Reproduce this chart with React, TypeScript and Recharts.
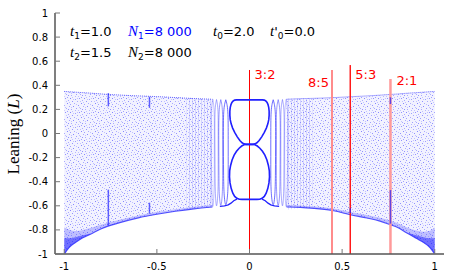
import React from 'react';
import {
  ComposedChart,
  Area,
  Line,
  Scatter,
  XAxis,
  YAxis,
  ReferenceLine,
  Customized,
} from 'recharts';

document.body.style.margin = '0';

const X_TICKS = [-1, -0.5, 0, 0.5, 1];
const Y_TICKS = [-1, -0.8, -0.6, -0.4, -0.2, 0, 0.2, 0.4, 0.6, 0.8, 1];

// outline of the chaotic cloud, left of the central lobes
const LEFT_X = [-1, -0.97, -0.94, -0.9, -0.85, -0.8, -0.7, -0.6, -0.5, -0.4, -0.3, -0.2];
const LEFT_TOP = [0.349, 0.346, 0.343, 0.339, 0.334, 0.328, 0.319, 0.312, 0.306, 0.298, 0.29, 0.284];
const LEFT_LOW = [-1, -0.94, -0.905, -0.865, -0.83, -0.79, -0.74, -0.7, -0.67, -0.645, -0.625, -0.61];
const LEFT_BAND = [-0.78, -0.8, -0.81, -0.8, -0.78, -0.755, -0.715, -0.68, -0.652, -0.628, -0.608, -0.593];

// and right of them
const RIGHT_X = [0.2, 0.274, 0.35, 0.454, 0.544, 0.634, 0.7, 0.76, 0.8, 0.85, 0.9, 0.94, 0.97, 1];
const RIGHT_TOP = [0.284, 0.289, 0.292, 0.298, 0.305, 0.312, 0.318, 0.324, 0.328, 0.334, 0.339, 0.343, 0.346, 0.349];
const RIGHT_LOW = [-0.61, -0.613, -0.622, -0.641, -0.674, -0.701, -0.725, -0.757, -0.78, -0.826, -0.87, -0.905, -0.94, -1];
const RIGHT_BAND = [-0.593, -0.597, -0.605, -0.622, -0.652, -0.676, -0.697, -0.723, -0.745, -0.78, -0.805, -0.815, -0.81, -0.78];

// dense corners at |x| -> 1
const CORNER_LEFT_X = [-1, -0.97, -0.94, -0.9, -0.86];
const CORNER_LEFT_LOW = [-1, -0.94, -0.905, -0.865, -0.838];
const CORNER_LEFT_TOP = [-0.87, -0.87, -0.86, -0.845, -0.83];
const CORNER_RIGHT_X = [0.86, 0.9, 0.94, 0.97, 1];
const CORNER_RIGHT_LOW = [-0.835, -0.87, -0.905, -0.94, -1];
const CORNER_RIGHT_TOP = [-0.825, -0.845, -0.86, -0.87, -0.87];

// fringe columns near the centre
const FRINGE_LEFT_X = [-0.34, -0.27, -0.2];
const FRINGE_RIGHT_X = [0.2, 0.27, 0.34];
const FRINGE_TOP = [0.292, 0.288, 0.284];
const FRINGE_LOW = [-0.632, -0.62, -0.61];

// the bold 3:2 island (figure eight)
const ISLAND_UPPER: [number, number][] = [
  [0, 0.279], [-0.07, 0.279], [-0.08, 0.277], [-0.088, 0.27], [-0.095, 0.258], [-0.1, 0.24], [-0.104, 0.215],
  [-0.106, 0.185], [-0.106, 0.15], [-0.104, 0.115], [-0.099, 0.08], [-0.091, 0.045], [-0.08, 0.01],
  [-0.066, -0.028], [-0.052, -0.058], [-0.04, -0.077], [-0.03, -0.086], [-0.018, -0.09], [0, -0.09],
  [0.018, -0.09], [0.03, -0.086], [0.04, -0.077], [0.052, -0.058], [0.066, -0.028], [0.08, 0.01],
  [0.091, 0.045], [0.099, 0.08], [0.104, 0.115], [0.106, 0.15], [0.106, 0.185], [0.104, 0.215],
  [0.1, 0.24], [0.095, 0.258], [0.088, 0.27], [0.08, 0.277], [0.07, 0.279], [0, 0.279],
];
const ISLAND_LOWER: [number, number][] = [
  [0, -0.09], [-0.018, -0.09], [-0.03, -0.094], [-0.042, -0.104], [-0.056, -0.122], [-0.07, -0.148],
  [-0.083, -0.18], [-0.094, -0.22], [-0.102, -0.265], [-0.107, -0.31], [-0.108, -0.36], [-0.105, -0.41],
  [-0.099, -0.455], [-0.09, -0.495], [-0.08, -0.522], [-0.068, -0.538], [-0.055, -0.545], [-0.04, -0.547],
  [0.04, -0.547], [0.055, -0.545], [0.068, -0.538], [0.08, -0.522], [0.09, -0.495], [0.099, -0.455],
  [0.105, -0.41], [0.108, -0.36], [0.107, -0.31], [0.102, -0.265], [0.094, -0.22], [0.083, -0.18],
  [0.07, -0.148], [0.056, -0.122], [0.042, -0.104], [0.03, -0.094], [0.018, -0.09], [0, -0.09],
];
const FLARE_LEFT: [number, number][] = [[-0.068, -0.545], [-0.085, -0.558], [-0.1, -0.578], [-0.115, -0.592], [-0.135, -0.6], [-0.16, -0.604]];
const FLARE_RIGHT: [number, number][] = [[0.068, -0.545], [0.085, -0.558], [0.1, -0.578], [0.115, -0.592], [0.135, -0.6], [0.16, -0.604]];

// thin loops just outside the island
const LOOPS: [number, number][][] = [
  [[-0.128, 0.28], [-0.139, 0.18], [-0.141, -0.05], [-0.14, -0.32], [-0.137, -0.5], [-0.128, -0.59], [-0.118, -0.5], [-0.115, -0.32], [-0.115, -0.05], [-0.117, 0.18], [-0.128, 0.28]],
  [[-0.155, 0.281], [-0.164, 0.18], [-0.166, -0.05], [-0.165, -0.32], [-0.163, -0.5], [-0.155, -0.595], [-0.147, -0.5], [-0.145, -0.32], [-0.145, -0.05], [-0.146, 0.18], [-0.155, 0.281]],
  [[-0.178, 0.282], [-0.186, 0.18], [-0.187, -0.05], [-0.186, -0.32], [-0.184, -0.5], [-0.178, -0.6], [-0.171, -0.5], [-0.169, -0.32], [-0.169, -0.05], [-0.17, 0.18], [-0.178, 0.282]],
  [[-0.198, 0.283], [-0.205, 0.18], [-0.206, -0.05], [-0.205, -0.32], [-0.203, -0.5], [-0.198, -0.605], [-0.192, -0.5], [-0.19, -0.32], [-0.19, -0.05], [-0.191, 0.18], [-0.198, 0.283]],
  [[0.128, 0.28], [0.139, 0.18], [0.141, -0.05], [0.14, -0.32], [0.137, -0.5], [0.128, -0.59], [0.118, -0.5], [0.115, -0.32], [0.115, -0.05], [0.117, 0.18], [0.128, 0.28]],
  [[0.155, 0.281], [0.164, 0.18], [0.166, -0.05], [0.165, -0.32], [0.163, -0.5], [0.155, -0.595], [0.147, -0.5], [0.145, -0.32], [0.145, -0.05], [0.146, 0.18], [0.155, 0.281]],
  [[0.178, 0.282], [0.186, 0.18], [0.187, -0.05], [0.186, -0.32], [0.184, -0.5], [0.178, -0.6], [0.171, -0.5], [0.169, -0.32], [0.169, -0.05], [0.17, 0.18], [0.178, 0.282]],
  [[0.198, 0.283], [0.205, 0.18], [0.206, -0.05], [0.205, -0.32], [0.203, -0.5], [0.198, -0.605], [0.192, -0.5], [0.19, -0.32], [0.19, -0.05], [0.191, 0.18], [0.198, 0.283]],
];
const LOOP_OPACITY = [0.7, 0.5, 0.4, 0.3, 0.7, 0.5, 0.4, 0.3];

// small resonance streaks inside the cloud
const STREAKS: [number, number][][] = [
  [[-0.762, 0.335], [-0.762, 0.225]],
  [[-0.762, -0.466], [-0.762, -0.765]],
  [[-0.54, 0.305], [-0.54, 0.214]],
  [[-0.54, -0.574], [-0.54, -0.665]],
  [[0.761, 0.3], [0.761, 0.245]],
  [[0.761, -0.47], [0.761, -0.748]],
  [[0.544, -0.62], [0.544, -0.66]],
];

const RES_X = [0, 0.4455, 0.544, 0.761];
const RES_TOP = [0.527, 0.527, 0.568, 0.452];
const RES_LABEL = ['3:2', '8:5', '5:3', '2:1'];
const RES_COLOR = ['#ff0000', '#ff8c8c', '#ff1a1a', '#ff9a9a'];
const RES_WIDTH = [1, 2, 1.5, 2.5];
const RES_DX = [5, -3, 5, 6];
const RES_DY = [9, 17, 14, 6];

const ANNOT_ROW1 = [
  { base: 't', prime: '', sub: '1', rest: '=1.0', color: '#000' },
  { base: 'N', prime: '', sub: '1', rest: '=8 000', color: '#0000ff' },
  { base: 't', prime: '', sub: '0', rest: '=2.0', color: '#000' },
  { base: 't', prime: "'", sub: '0', rest: '=0.0', color: '#000' },
];
const ANNOT_ROW2 = [
  { base: 't', prime: '', sub: '2', rest: '=1.5', color: '#000' },
  { base: 'N', prime: '', sub: '2', rest: '=8 000', color: '#000' },
];

const rangeData = (xs: number[], lows: number[], highs: number[]) =>
  xs.map((x, i) => ({ x, r: [lows[i], highs[i]] }));
const lineData = (xs: number[], ys: number[]) => xs.map((x, i) => ({ x, y: ys[i] }));
const pts = (arr: [number, number][]) => arr.map(([x, y]) => ({ x, y }));

const noShape = () => <g />;

// speckle tile for the chaotic sea
const DOTS: [number, number, number][] = [
  [0, 0, 0.45], [5, 1, 0.35], [9, 0, 0.4], [12, 2, 0.3], [2, 3, 0.4], [7, 3, 0.3], [11, 5, 0.45],
  [4, 5, 0.3], [0, 6, 0.35], [8, 7, 0.4], [13, 8, 0.3], [3, 8, 0.45], [6, 10, 0.35], [10, 10, 0.3],
  [1, 11, 0.3], [12, 11, 0.4], [7, 0, 0.2], [3, 1, 0.2], [10, 3, 0.2], [6, 6, 0.2], [1, 9, 0.2],
  [9, 9, 0.2], [13, 4, 0.2], [5, 12, 0.25], [11, 13, 0.35], [2, 13, 0.2], [8, 12, 0.2],
];

const Annotations = () => {
  const row = (items: typeof ANNOT_ROW1, xs: number[], y: number) =>
    items.map((a, i) => (
      <text key={i} x={xs[i]} y={y} fill={a.color} fontFamily="DejaVu Sans" fontSize={13}>
        <tspan fontFamily="Liberation Serif" fontStyle="italic" fontSize={15}>{a.base}</tspan>
        {a.prime && <tspan>{a.prime}</tspan>}
        <tspan fontSize={9} dy={3}>{a.sub}</tspan>
        <tspan dy={-3}>{a.rest}</tspan>
      </text>
    ));
  return (
    <g>
      {row(ANNOT_ROW1, [70, 128, 213, 270], 36)}
      {row(ANNOT_ROW2, [70, 128], 57)}
      <text
        x={0}
        y={0}
        transform="translate(19,134) rotate(-90)"
        textAnchor="middle"
        fontFamily="Liberation Serif"
        fontSize={17}
        fill="#000"
      >
        Leaning (<tspan fontStyle="italic">L</tspan>)
      </text>
    </g>
  );
};

const tickStyle = { fill: '#000', fontSize: 10, fontFamily: 'DejaVu Sans' };
const frame = { stroke: '#555', strokeWidth: 1.5 };
const tickLine = { stroke: '#777' };

export default function App() {
  return (
    <ComposedChart width={463} height={278} margin={{ top: 13, right: 19, bottom: 0, left: 0 }}>
      <defs>
        <pattern id="cloud" width={14} height={14} patternUnits="userSpaceOnUse">
          {DOTS.map(([x, y, o], i) => (
            <rect key={i} x={x} y={y} width={1} height={1} fill="#0000ff" fillOpacity={o} />
          ))}
        </pattern>
        <pattern id="fringe" width={3} height={4} patternUnits="userSpaceOnUse">
          <rect x={0} y={0} width={1} height={4} fill="#2020ff" fillOpacity={0.14} />
        </pattern>
      </defs>
      <XAxis
        dataKey="x"
        type="number"
        domain={[-1.05, 1.05]}
        allowDataOverflow
        ticks={X_TICKS}
        height={24}
        tickSize={-5}
        tickMargin={14}
        tick={tickStyle}
        axisLine={frame}
        tickLine={tickLine}
      />
      <XAxis
        xAxisId="top"
        orientation="top"
        type="number"
        domain={[-1.05, 1.05]}
        ticks={X_TICKS}
        height={0}
        tickSize={-5}
        tick={false}
        axisLine={frame}
        tickLine={tickLine}
      />
      <YAxis
        dataKey="y"
        type="number"
        domain={[-1, 1]}
        allowDataOverflow
        ticks={Y_TICKS}
        width={55}
        tickSize={-5}
        tickMargin={12}
        tick={tickStyle}
        axisLine={frame}
        tickLine={tickLine}
      />
      <YAxis
        yAxisId="right"
        orientation="right"
        type="number"
        domain={[-1, 1]}
        ticks={Y_TICKS}
        width={0}
        tickSize={-5}
        tick={false}
        axisLine={frame}
        tickLine={tickLine}
      />

      <Area data={rangeData(LEFT_X, LEFT_LOW, LEFT_TOP)} dataKey="r" type="monotone" stroke="none" fill="url(#cloud)" fillOpacity={1} isAnimationActive={false} />
      <Area data={rangeData(RIGHT_X, RIGHT_LOW, RIGHT_TOP)} dataKey="r" type="monotone" stroke="none" fill="url(#cloud)" fillOpacity={1} isAnimationActive={false} />
      <Area data={rangeData(LEFT_X, LEFT_LOW, LEFT_TOP)} dataKey="r" type="monotone" stroke="none" fill="#4040ff" fillOpacity={0.07} isAnimationActive={false} />
      <Area data={rangeData(RIGHT_X, RIGHT_LOW, RIGHT_TOP)} dataKey="r" type="monotone" stroke="none" fill="#4040ff" fillOpacity={0.07} isAnimationActive={false} />
      <Area data={rangeData(FRINGE_LEFT_X, FRINGE_LOW, FRINGE_TOP)} dataKey="r" type="monotone" stroke="none" fill="url(#fringe)" fillOpacity={1} isAnimationActive={false} />
      <Area data={rangeData(FRINGE_RIGHT_X, FRINGE_LOW, FRINGE_TOP)} dataKey="r" type="monotone" stroke="none" fill="url(#fringe)" fillOpacity={1} isAnimationActive={false} />
      <Area data={rangeData(LEFT_X, LEFT_LOW, LEFT_BAND)} dataKey="r" type="monotone" stroke="none" fill="#3a3aff" fillOpacity={0.28} isAnimationActive={false} />
      <Area data={rangeData(RIGHT_X, RIGHT_LOW, RIGHT_BAND)} dataKey="r" type="monotone" stroke="none" fill="#3a3aff" fillOpacity={0.28} isAnimationActive={false} />
      <Area data={rangeData(CORNER_LEFT_X, CORNER_LEFT_LOW, CORNER_LEFT_TOP)} dataKey="r" type="monotone" stroke="none" fill="#1010ff" fillOpacity={0.45} isAnimationActive={false} />
      <Area data={rangeData(CORNER_RIGHT_X, CORNER_RIGHT_LOW, CORNER_RIGHT_TOP)} dataKey="r" type="monotone" stroke="none" fill="#1010ff" fillOpacity={0.45} isAnimationActive={false} />

      <Line data={lineData(LEFT_X, LEFT_TOP)} dataKey="y" type="monotone" stroke="#5a5aff" strokeWidth={1} strokeDasharray="1 1" dot={false} isAnimationActive={false} />
      <Line data={lineData(RIGHT_X, RIGHT_TOP)} dataKey="y" type="monotone" stroke="#5a5aff" strokeWidth={1} strokeDasharray="1 1" dot={false} isAnimationActive={false} />
      <Line data={lineData(LEFT_X, LEFT_LOW)} dataKey="y" type="monotone" stroke="#2a2aff" strokeOpacity={0.8} strokeWidth={1.2} dot={false} isAnimationActive={false} />
      <Line data={lineData(RIGHT_X, RIGHT_LOW)} dataKey="y" type="monotone" stroke="#2a2aff" strokeOpacity={0.8} strokeWidth={1.2} dot={false} isAnimationActive={false} />

      {LOOPS.map((loop, i) => (
        <Scatter key={`loop-${i}`} data={pts(loop)} line={{ stroke: '#3030ff', strokeWidth: 1, strokeOpacity: LOOP_OPACITY[i] }} lineJointType="natural" shape={noShape} isAnimationActive={false} />
      ))}
      {STREAKS.map((s, i) => (
        <Scatter key={`streak-${i}`} data={pts(s)} line={{ stroke: '#2020ff', strokeWidth: 1.5, strokeOpacity: 0.7 }} shape={noShape} isAnimationActive={false} />
      ))}
      <Scatter data={pts(ISLAND_UPPER)} line={{ stroke: '#2020ff', strokeWidth: 1.6 }} shape={noShape} isAnimationActive={false} />
      <Scatter data={pts(ISLAND_LOWER)} line={{ stroke: '#2020ff', strokeWidth: 1.6 }} shape={noShape} isAnimationActive={false} />
      <Scatter data={pts(FLARE_LEFT)} line={{ stroke: '#2020ff', strokeWidth: 1.3 }} shape={noShape} isAnimationActive={false} />
      <Scatter data={pts(FLARE_RIGHT)} line={{ stroke: '#2020ff', strokeWidth: 1.3 }} shape={noShape} isAnimationActive={false} />

      {RES_X.map((x, i) => (
        <ReferenceLine
          key={RES_LABEL[i]}
          segment={[{ x, y: -1 }, { x, y: RES_TOP[i] }]}
          stroke={RES_COLOR[i]}
          strokeWidth={RES_WIDTH[i]}
          ifOverflow="visible"
          label={{
            content: (p: any) => (
              <text
                x={p.viewBox.x + RES_DX[i]}
                y={p.viewBox.y + RES_DY[i]}
                textAnchor={RES_DX[i] < 0 ? 'end' : 'start'}
                fill="#ff0000"
                fontFamily="DejaVu Sans"
                fontSize={13}
              >
                {RES_LABEL[i]}
              </text>
            ),
          }}
        />
      ))}
      <Customized component={<Annotations />} />
    </ComposedChart>
  );
}
